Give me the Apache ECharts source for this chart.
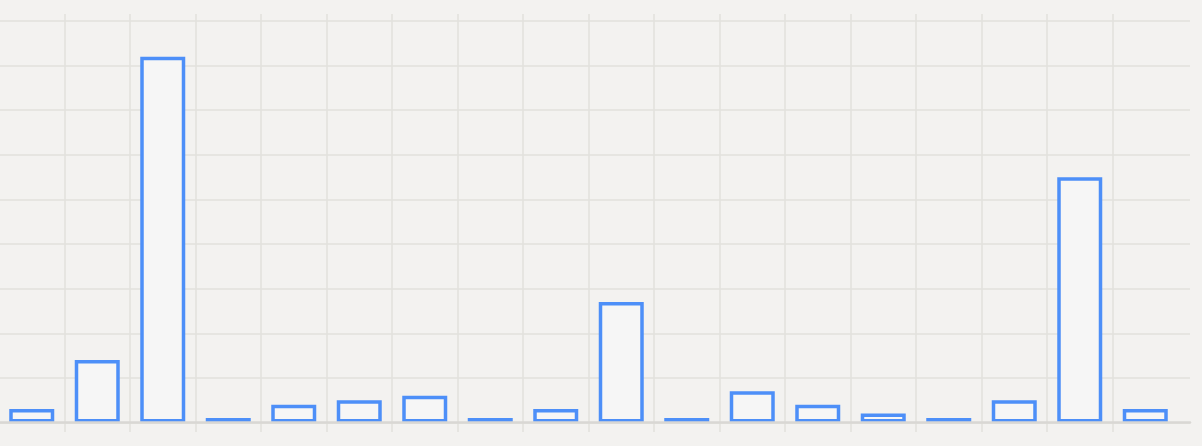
<!DOCTYPE html>
<html>
<head>
<meta charset="utf-8">
<title>bar chart</title>
<script src="https://cdn.jsdelivr.net/npm/echarts@6/dist/echarts.min.js"></script>
<style>
    html, body { margin: 0; padding: 0; background: #f3f2f0; }
    #chart1 { width: 1202px; height: 446px; }
</style>
</head>
<body>
<div id="chart1"></div>
<script>
// data
var categories = ['Item 1', 'Item 2', 'Item 3', 'Item 4', 'Item 5', 'Item 6', 'Item 7', 'Item 8', 'Item 9',
    'Item 10', 'Item 11', 'Item 12', 'Item 13', 'Item 14', 'Item 15', 'Item 16', 'Item 17', 'Item 18'];
var values = [3, 14, 82, 1, 4, 5, 6, 1, 3, 27, 1, 7, 4, 2, 1, 5, 55, 3];
var yMin = 0;
var yMax = 90;
var yStep = 10;

var lineColor = '#e2e0dd';

//******************************************************************************
var echart1 = echarts.init(document.getElementById('chart1'));

var option = {
    backgroundColor: '#f3f2f0',
    animation: false,
    grid: [
        // bars + horizontal lines
        {left: -1, width: 1179, top: 21, bottom: 23.5, outerBoundsMode: 'none'},
        // vertical lines, running past the axis as ticks
        {left: -1, width: 1179, top: 14, bottom: 14, outerBoundsMode: 'none'},
        // axis line, a bit wider than the bars
        {left: -1, right: 12, top: 21, bottom: 23.5, outerBoundsMode: 'none'}
    ],
    xAxis: [
        {
            gridIndex: 0,
            type: 'category',
            data: categories,
            axisLine: {show: false},
            axisTick: {show: false},
            axisLabel: {show: false},
            splitLine: {show: false}
        },
        {
            gridIndex: 1,
            type: 'category',
            data: categories,
            axisLine: {show: false},
            axisTick: {show: false},
            axisLabel: {
                show: true,
                interval: 0,
                margin: 14,
                color: '#555',
                fontSize: 12,
                fontFamily: 'Open Sans'
            },
            splitLine: {
                show: true,
                showMinLine: false,
                showMaxLine: false,
                lineStyle: {color: lineColor, width: 1.5}
            }
        },
        {
            gridIndex: 2,
            type: 'value',
            min: 0,
            max: 1,
            z: 5,
            axisLine: {show: true, onZero: false, lineStyle: {color: '#d9d7d4', width: 2.5}},
            axisTick: {show: false},
            axisLabel: {show: false},
            splitLine: {show: false}
        }
    ],
    yAxis: [
        {
            gridIndex: 0,
            type: 'value',
            min: yMin,
            max: yMax,
            interval: yStep,
            axisLine: {show: false},
            axisTick: {show: false},
            axisLabel: {show: false},
            splitLine: {show: false}
        },
        {
            gridIndex: 1,
            type: 'value',
            show: false
        },
        {
            gridIndex: 2,
            type: 'value',
            min: yMin,
            max: yMax,
            interval: yStep,
            axisLine: {show: false},
            axisTick: {show: false},
            axisLabel: {show: false},
            splitLine: {
                show: true,
                lineStyle: {color: lineColor, width: 1.5}
            }
        }
    ],
    series: [
        {
            name: 'count',
            type: 'bar',
            xAxisIndex: 0,
            yAxisIndex: 0,
            barWidth: 45,
            z: 3,
            data: values,
            itemStyle: {
                color: '#f6f6f6',
                borderColor: '#4d8ff8',
                borderWidth: 3.5
            }
        }
    ]
};
echart1.setOption(option);
</script>
</body>
</html>
